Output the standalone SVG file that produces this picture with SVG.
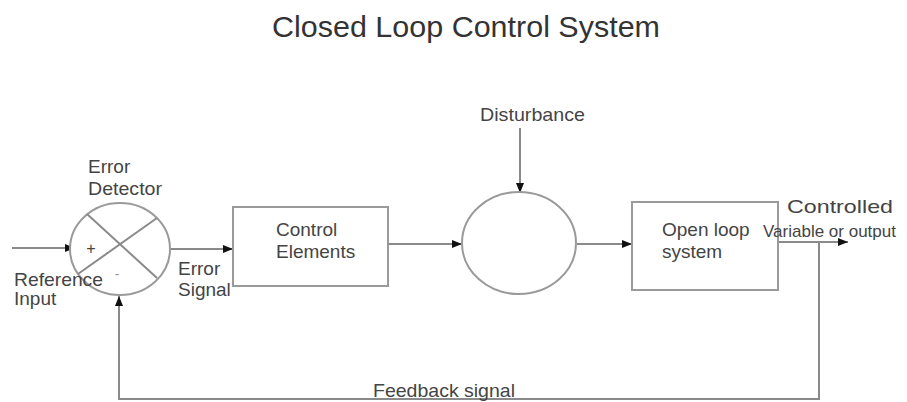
<svg xmlns="http://www.w3.org/2000/svg" width="907" height="402" viewBox="0 0 907 402">
<style>
.t{font-family:"Liberation Sans",Arial,sans-serif;font-size:19px;fill:#444}
.ttl{font-family:"Liberation Sans",Arial,sans-serif;font-size:30px;fill:#333}
.ln{stroke:#8a8a8a;stroke-width:2;fill:none}
.nd{stroke:#9a9a9a;stroke-width:2;fill:#fff}
</style>
<defs>
<marker id="ah" viewBox="0 0 10 10" refX="10" refY="5" markerWidth="10" markerHeight="10" markerUnits="userSpaceOnUse" orient="auto">
<path d="M0,1 L10,5 L0,9 Z" fill="#111"/>
</marker>
</defs>
<rect width="907" height="402" fill="#fff"/>
<text class="ttl" x="466" y="37" text-anchor="middle" textLength="388" lengthAdjust="spacingAndGlyphs">Closed Loop Control System</text>

<g id="connectors">
<line class="ln" x1="12" y1="248" x2="75" y2="248" marker-end="url(#ah)"/>
<line class="ln" x1="170" y1="249" x2="233" y2="249" marker-end="url(#ah)"/>
<line class="ln" x1="389" y1="244" x2="462" y2="244" marker-end="url(#ah)"/>
<line class="ln" x1="520" y1="128" x2="520" y2="193" marker-end="url(#ah)"/>
<line class="ln" x1="577" y1="244" x2="632" y2="244" marker-end="url(#ah)"/>
<line class="ln" x1="778" y1="242" x2="848" y2="242" marker-end="url(#ah)"/>
<polyline class="ln" points="819,242 819,399 119,399 119,296" marker-end="url(#ah)"/>
</g>

<g id="error-detector">
<ellipse class="nd" cx="120" cy="249" rx="50" ry="46"/>
<line class="ln" x1="87" y1="214" x2="157" y2="278" stroke="#999"/>
<line class="ln" x1="157" y1="218" x2="78" y2="274" stroke="#999"/>
<text class="t" x="91" y="254" text-anchor="middle" style="font-size:16px">+</text>
<text class="t" x="117" y="279" text-anchor="middle" style="font-size:14px;fill:#999">-</text>
<text class="t" x="88" y="173">Error</text>
<text class="t" x="88" y="195" textLength="74" lengthAdjust="spacingAndGlyphs">Detector</text>
</g>

<g id="reference-input">
<text class="t" x="14" y="286" textLength="89" lengthAdjust="spacingAndGlyphs">Reference</text>
<text class="t" x="14" y="305">Input</text>
</g>

<g id="error-signal">
<text class="t" x="178" y="275">Error</text>
<text class="t" x="178" y="296">Signal</text>
</g>

<g id="control-elements">
<rect class="nd" x="233" y="207" width="155" height="79"/>
<text class="t" x="276" y="236">Control</text>
<text class="t" x="276" y="258">Elements</text>
</g>

<g id="disturbance">
<text class="t" x="480" y="121" textLength="105" lengthAdjust="spacingAndGlyphs">Disturbance</text>
</g>

<g id="summing-point">
<ellipse class="nd" cx="519" cy="243" rx="57" ry="51"/>
</g>

<g id="open-loop-system">
<rect class="nd" x="632" y="202" width="146" height="88"/>
<text class="t" x="662" y="236">Open loop</text>
<text class="t" x="662" y="258">system</text>
</g>

<g id="controlled-variable">
<text class="t" x="787" y="213" textLength="106" lengthAdjust="spacingAndGlyphs">Controlled</text>
<text class="t" x="763" y="237" style="font-size:17px">Variable or output</text>
</g>

<g id="feedback-signal">
<text class="t" x="373" y="397" textLength="142" lengthAdjust="spacingAndGlyphs">Feedback signal</text>
</g>
</svg>
